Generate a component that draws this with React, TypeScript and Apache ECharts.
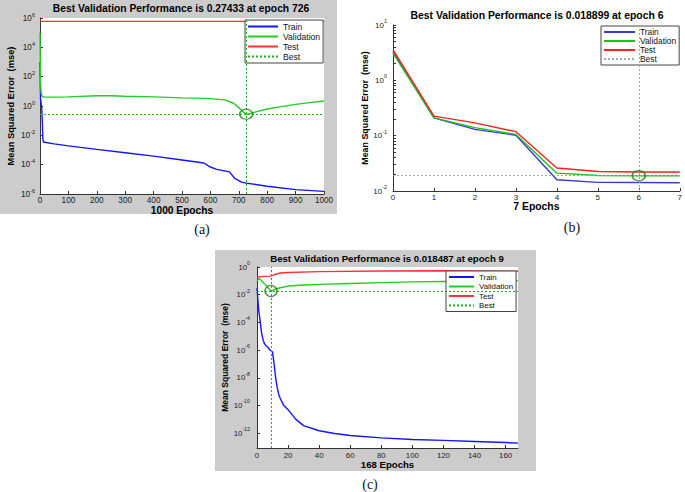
import React, { useEffect, useRef } from "react";
import * as echarts from "echarts";

// ---------------- data ----------------
const legendNames = ["Train", "Validation", "Test", "Best"];

// panel (a)
const aTrainEpochs = [0, 1, 2, 4, 6, 8, 10, 12, 50, 100, 200, 300, 400, 500, 577, 600, 622, 667, 687, 710, 726, 800, 900, 1000];
const aTrainMse = [1000, 30, 3, 1.5, 0.8, 0.1, 0.006, 0.0035, 0.0026, 0.0019, 0.0011, 0.00065, 0.00038, 0.00021, 0.00013, 0.000069, 0.000048, 0.000032, 0.000011, 0.0000065, 0.0000055, 0.0000034, 0.000002, 0.0000015];
const aValEpochs = [0, 2, 4, 8, 15, 50, 100, 200, 250, 300, 400, 500, 580, 600, 650, 680, 700, 715, 726, 740, 760, 800, 850, 900, 950, 1000];
const aValMse = [1e5, 30, 8, 4.5, 4.0, 4.0, 4.2, 5.0, 5.0, 4.6, 4.2, 3.6, 3.3, 3.2, 2.6, 1.6, 0.8, 0.4, 0.27433, 0.3, 0.4, 0.62, 0.9, 1.3, 1.7, 2.2];
const aTestEpochs = [0, 1000];
const aTestMse = [5.9e5, 5.9e5];
const aBest = [726, 0.27433];
const aXTicks = [0, 100, 200, 300, 400, 500, 600, 700, 800, 900, 1000];
const aYTicks = [-6, -4, -2, 0, 2, 4, 6];

// panel (b)
const bEpochs = [0, 1, 2, 3, 4, 5, 6, 7];
const bTrainMse = [3.3, 0.21, 0.13, 0.102, 0.016, 0.0143, 0.0142, 0.0141];
const bValMse = [3.1, 0.21, 0.14, 0.105, 0.021, 0.0191, 0.018899, 0.0189];
const bTestMse = [3.6, 0.225, 0.17, 0.118, 0.026, 0.0225, 0.022, 0.022];
const bBest = [6, 0.018899];
const bXTicks = [0, 1, 2, 3, 4, 5, 6, 7];
const bYTicks = [-2, -1, 0, 1];

// panel (c)
const cTrainEpochs = [0, 1, 2, 3, 4, 5, 6, 7, 8, 9, 10, 11, 12, 13, 14, 15, 17, 20, 25, 30, 40, 50, 60, 80, 100, 120, 140, 160, 168];
const cTrainMse = [3e-2, 1e-3, 1.3e-4, 1.6e-5, 5e-6, 2.7e-6, 2e-6, 1.6e-6, 1.1e-6, 8.9e-7, 7.1e-7, 1e-7, 1e-8, 2e-9, 6.3e-10, 3.2e-10, 1.1e-10, 5e-11, 1e-11, 3.5e-12, 1.5e-12, 9.5e-13, 6.8e-13, 4.6e-13, 3.5e-13, 3e-13, 2.5e-13, 2.1e-13, 1.9e-13];
const cValEpochs = [0, 1, 2, 3, 4, 5, 6, 7, 8, 9, 10, 12, 15, 20, 30, 40, 60, 80, 100, 120, 140, 168];
const cValMse = [0.09, 0.14, 0.13, 0.1, 0.075, 0.058, 0.045, 0.034, 0.025, 0.018487, 0.02, 0.026, 0.032, 0.042, 0.05, 0.056, 0.065, 0.075, 0.085, 0.09, 0.095, 0.1];
const cTestEpochs = [0, 2, 5, 8, 10, 12, 15, 20, 40, 80, 120, 168];
const cTestMse = [0.18, 0.2, 0.21, 0.22, 0.25, 0.3, 0.37, 0.4, 0.46, 0.52, 0.53, 0.49];
const cBest = [9, 0.018487];
const cXTicks = [0, 20, 40, 60, 80, 100, 120, 140, 160];
const cYTicks = [-12, -10, -8, -6, -4, -2, 0];

// ---------------- layout / style ----------------
const FONT = '"Liberation Sans", Arial, Helvetica, sans-serif';
const SERIF = '"Liberation Serif", "Times New Roman", serif';
const AXIS = "#333";
const TICKTXT = "#222";

const bMinor = [-2, -1, 0]
  .flatMap((n) => [1, 2, 3, 4, 5, 6, 7, 8, 9].map((k) => n + Math.log10(k)))
  .concat([1]);

const panels = [
  {
    id: "a",
    title: "Best Validation Performance is 0.27433 at epoch 726",
    titlePos: [181, 8], titleSize: 10.3,
    sub: "(a)", subPos: [202, 229],
    xName: "1000 Epochs",
    grid: { left: 40, top: 18, width: 284, height: 176 },
    xMax: 1000, yMin: -6, yMax: 6,
    xTicks: aXTicks, yLabels: aYTicks, yTickVals: aYTicks,
    train: [aTrainEpochs, aTrainMse], val: [aValEpochs, aValMse], test: [aTestEpochs, aTestMse], best: aBest,
    colors: { train: "#1414ff", val: "#22cc22", test: "#ff3030", best: "#22aa22", circle: "#1a7a1a" },
    tickSize: 8.2, expSize: 5.6, xNameSize: 10.2, yNameSize: 9.3,
    xLabelMargin: 2, yLabelMargin: 5, xNameGap: 11, yNameGap: 25,
    legend: { left: 245, top: 20, itemWidth: 30, itemGap: 1, fontSize: 8.6 },
    circle: [13, 10],
  },
  {
    id: "b",
    title: "Best Validation Performance is 0.018899 at epoch 6",
    titlePos: [537, 15], titleSize: 10.4,
    sub: "(b)", subPos: [572, 227],
    xName: "7 Epochs",
    grid: { left: 393, top: 25, width: 289, height: 166 },
    xMax: 7, yMin: -2, yMax: 1,
    xTicks: bXTicks, yLabels: bYTicks, yTickVals: bMinor,
    train: [bEpochs, bTrainMse], val: [bEpochs, bValMse], test: [bEpochs, bTestMse], best: bBest,
    colors: { train: "#3a3ad0", val: "#1fc01f", test: "#ff2020", best: "#9aaabb", circle: "#1a7a1a" },
    tickSize: 8, expSize: 5.4, xNameSize: 10.4, yNameSize: 8.9,
    xLabelMargin: 2, yLabelMargin: 6, xNameGap: 10, yNameGap: 23,
    legend: { left: 601, top: 26, itemWidth: 31, itemGap: 1, fontSize: 8.4 },
    circle: [13, 10],
  },
  {
    id: "c",
    title: "Best Validation Performance is 0.018487 at epoch 9",
    titlePos: [387, 258], titleSize: 9.6,
    sub: "(c)", subPos: [370, 484],
    xName: "168 Epochs",
    grid: { left: 257, top: 267, width: 261, height: 181 },
    xMax: 168, yMin: -13.07, yMax: 0,
    xTicks: cXTicks, yLabels: cYTicks, yTickVals: cYTicks,
    train: [cTrainEpochs, cTrainMse], val: [cValEpochs, cValMse], test: [cTestEpochs, cTestMse], best: cBest,
    colors: { train: "#1414ff", val: "#22cc22", test: "#ff3030", best: "#22aa22", circle: "#1a7a1a" },
    tickSize: 7.8, expSize: 5.3, xNameSize: 9.6, yNameSize: 8.5,
    xLabelMargin: 3, yLabelMargin: 7, xNameGap: 11, yNameGap: 25,
    legend: { left: 446, top: 271, itemWidth: 25, itemGap: 1.5, fontSize: 7.9 },
    circle: [12, 11],
  },
];

const pts = (xs: number[], ys: number[]) => xs.map((x, i) => [x, Math.log10(ys[i])]);

function buildOption() {
  const grid: any[] = [];
  const xAxis: any[] = [];
  const yAxis: any[] = [];
  const series: any[] = [];
  const legend: any[] = [];
  const graphic: any[] = [
    { type: "rect", z: -10, silent: true, shape: { x: 0, y: 0, width: 337, height: 214 }, style: { fill: "#cccccc" } },
    { type: "rect", z: -10, silent: true, shape: { x: 215, y: 250, width: 321, height: 221 }, style: { fill: "#cccccc" } },
  ];

  panels.forEach((p, i) => {
    const tag = "|" + p.id;
    grid.push({ ...p.grid, show: true, backgroundColor: "#ffffff", borderWidth: 0, containLabel: false });
    xAxis.push({
      gridIndex: i, type: "value", min: 0, max: p.xMax,
      axisLine: { show: true, onZero: false, lineStyle: { color: AXIS, width: 1 } },
      axisTick: { show: true, inside: true, length: 3, customValues: p.xTicks, lineStyle: { color: AXIS } },
      axisLabel: {
        customValues: p.xTicks, fontFamily: FONT, fontSize: p.tickSize, color: TICKTXT, margin: p.xLabelMargin,
        formatter: (v: number) => String(Math.round(v)),
      },
      splitLine: { show: false },
      name: p.xName, nameLocation: "middle", nameGap: p.xNameGap,
      nameTextStyle: { fontFamily: FONT, fontWeight: "bold", fontSize: p.xNameSize, color: "#000" },
    });
    yAxis.push({
      gridIndex: i, type: "value", min: p.yMin, max: p.yMax,
      axisLine: { show: true, onZero: false, lineStyle: { color: AXIS, width: 1 } },
      axisTick: { show: true, inside: true, length: 3, customValues: p.yTickVals, lineStyle: { color: AXIS } },
      axisLabel: {
        customValues: p.yLabels, margin: p.yLabelMargin,
        formatter: (v: number) => `{b|10}{e|${Math.round(v)}}`,
        rich: {
          b: { fontFamily: FONT, fontSize: p.tickSize, color: TICKTXT, lineHeight: 13 },
          e: { fontFamily: FONT, fontSize: p.expSize, color: TICKTXT, verticalAlign: "top" },
        },
      },
      splitLine: { show: false },
      name: "Mean Squared Error  (mse)", nameLocation: "middle", nameGap: p.yNameGap,
      nameTextStyle: { fontFamily: FONT, fontWeight: "bold", fontSize: p.yNameSize, color: "#000" },
    });

    const lineSeries = (name: string, d: any[], color: string) => ({
      type: "line", name: name + tag, xAxisIndex: i, yAxisIndex: i,
      data: pts(d[0], d[1]), symbol: "none", showSymbol: false, color,
      lineStyle: { color, width: 1.4 }, animation: false,
    });
    series.push(lineSeries("Train", p.train, p.colors.train));
    series.push(lineSeries("Validation", p.val, p.colors.val));
    series.push(lineSeries("Test", p.test, p.colors.test));
    series.push({
      type: "line", name: "Best" + tag, xAxisIndex: i, yAxisIndex: i, data: [],
      symbol: "none", color: p.colors.best,
      lineStyle: { color: p.colors.best, width: 1, type: [2, 2] },
      markLine: {
        silent: true, symbol: ["none", "none"], label: { show: false }, animation: false,
        lineStyle: { color: p.colors.best, width: 1, type: [2, 2] },
        data: [{ xAxis: p.best[0] }, { yAxis: Math.log10(p.best[1]) }],
      },
    });
    series.push({
      type: "scatter", name: "bestPoint" + tag, xAxisIndex: i, yAxisIndex: i,
      data: [[p.best[0], Math.log10(p.best[1])]], symbol: "circle", symbolSize: p.circle,
      itemStyle: { color: "rgba(0,0,0,0)", borderColor: p.colors.circle, borderWidth: 1.4 },
      z: 5, silent: true,
    });

    legend.push({
      data: legendNames.map((n) => n + tag),
      orient: "vertical", left: p.legend.left, top: p.legend.top,
      padding: [2, 3, 2, 2], itemGap: p.legend.itemGap, itemWidth: p.legend.itemWidth, itemHeight: 8, itemTextGap: 3,
      backgroundColor: "#ffffff", borderColor: "#444", borderWidth: 1, borderRadius: 0,
      itemStyle: { opacity: 0, color: "rgba(0,0,0,0)", borderWidth: 0 },
      textStyle: { fontFamily: FONT, fontSize: p.legend.fontSize, color: "#111" },
      formatter: (n: string) => n.split("|")[0],
      selectedMode: false,
    });

    graphic.push({
      type: "text", z: 10, x: p.titlePos[0], y: p.titlePos[1],
      style: {
        text: p.title, fill: "#000", fontFamily: FONT, fontWeight: "bold", fontSize: p.titleSize,
        align: "center", verticalAlign: "middle", textAlign: "center", textVerticalAlign: "middle",
      },
    });
    graphic.push({
      type: "text", z: 10, x: p.subPos[0], y: p.subPos[1],
      style: {
        text: p.sub, fill: "#111", fontFamily: SERIF, fontSize: 14,
        align: "center", verticalAlign: "middle", textAlign: "center", textVerticalAlign: "middle",
      },
    });
  });

  return { animation: false, backgroundColor: "#ffffff", grid, xAxis, yAxis, series, legend, graphic };
}

export default function App() {
  const ref = useRef<HTMLDivElement>(null);
  useEffect(() => {
    if (!ref.current) return;
    const chart = echarts.init(ref.current, null, { renderer: "svg" });
    chart.setOption(buildOption() as any);
    return () => chart.dispose();
  }, []);
  return (
    <div
      ref={ref}
      style={{ position: "fixed", left: 0, top: 0, width: 685, height: 492, background: "#ffffff" }}
    />
  );
}
